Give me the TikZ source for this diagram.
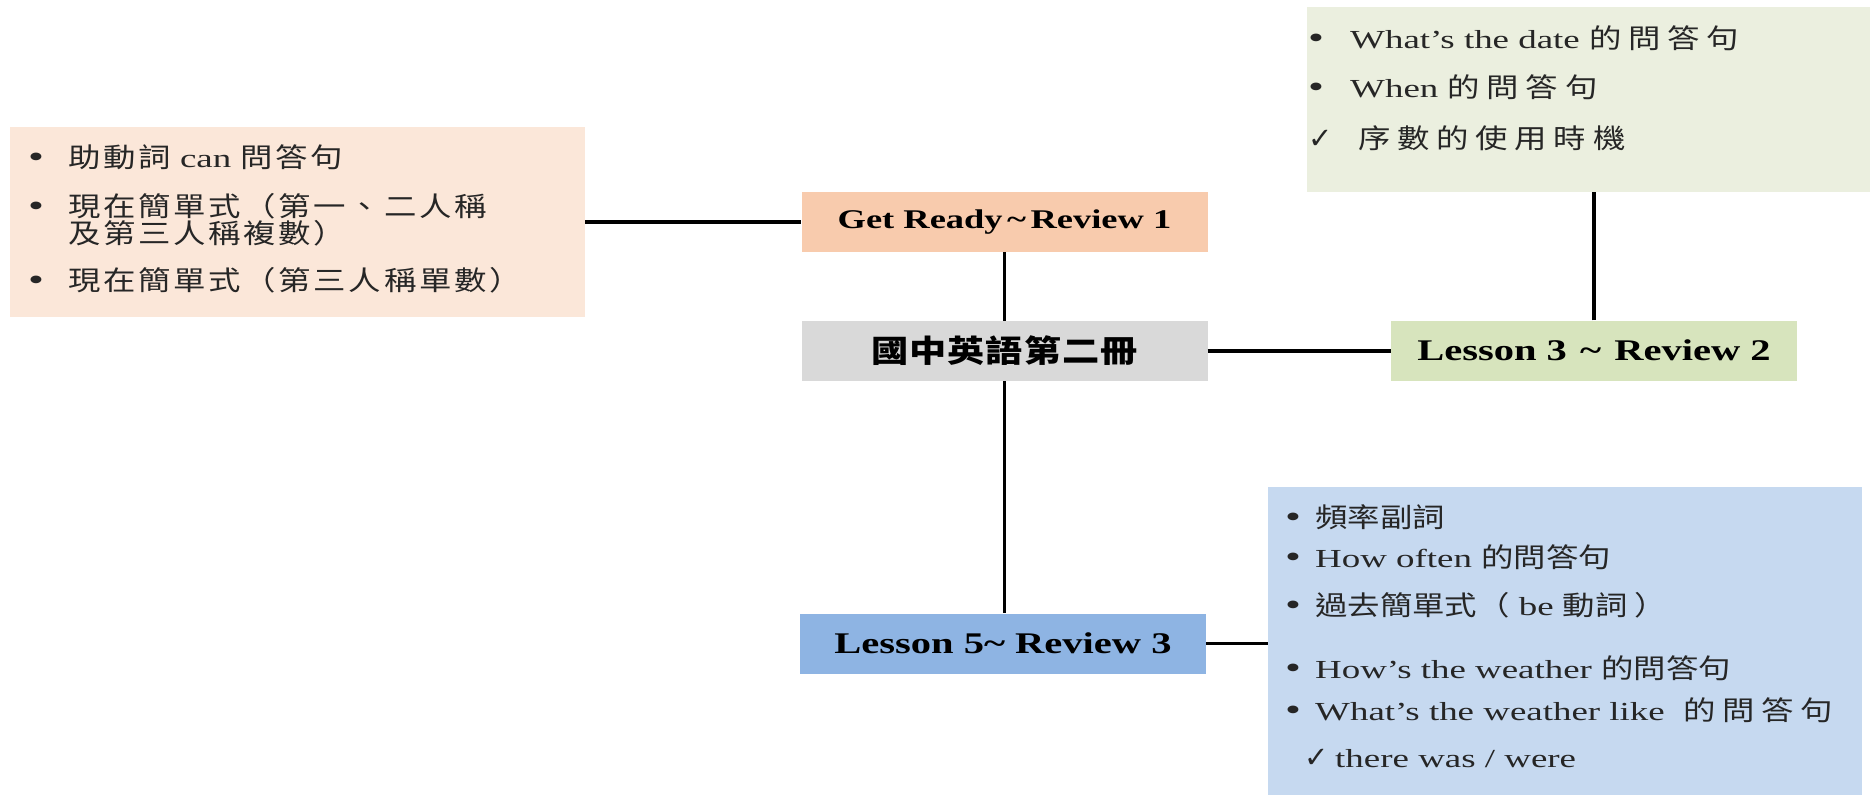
\documentclass[tikz,border=0pt]{standalone}
\usepackage{fontspec}
\setmainfont[FakeStretch=1.42]{Liberation Serif}
\newfontfamily\labelfont[FakeStretch=1.35]{Liberation Serif}
\newfontfamily\cjk[FakeStretch=1.2,LetterSpace=10]{Noto Sans CJK TC}
\newfontfamily\cjkblue[FakeStretch=1.2]{Noto Sans CJK TC}
\newfontfamily\cjkwide[FakeStretch=1.2,LetterSpace=25]{Noto Sans CJK TC}
\newfontfamily\cjktitle[FakeStretch=1.2,LetterSpace=3]{Noto Sans CJK TC}
\newfontfamily\symfont{DejaVu Sans}
\newcommand{\zh}[1]{{\cjk\fontsize{27}{30}\selectfont #1}}
\newcommand{\zhblue}[1]{{\cjkblue\fontsize{27}{30}\selectfont #1}}
\newcommand{\zhwide}[1]{{\cjkwide\fontsize{27}{30}\selectfont #1}}
\newcommand{\bul}[1]{\makebox[#1][l]{\fontsize{32}{34}\selectfont •}}
\newcommand{\chk}[1]{\makebox[#1][l]{\symfont\fontsize{29}{32}\selectfont ✓}}

\definecolor{peachlight}{HTML}{FBE7D9}
\definecolor{peach}{HTML}{F8CBAD}
\definecolor{bookgray}{HTML}{D9D9D9}
\definecolor{olive}{HTML}{D7E4BD}
\definecolor{olivelight}{HTML}{EBEFDF}
\definecolor{sky}{HTML}{8EB4E3}
\definecolor{skylight}{HTML}{C6D9F0}

\tikzset{
	topic/.style={inner sep=0pt, minimum width=406pt, minimum height=60pt, text=black, font=\labelfont\bfseries\fontsize{27}{30}\selectfont},
	notes/.style={inner sep=0pt},
	item/.style={anchor=west, inner sep=0pt, text height=23pt, text depth=3pt, text=black!85, font=\fontsize{26}{30}\selectfont},
	link/.style={line width=3.5pt}
}

\begin{document}
\begin{tikzpicture}[x=1pt,y=-1pt]
	\useasboundingbox (0,0) rectangle (1870,795);

	% note boxes
	\node[notes, fill=peachlight, minimum width=575pt, minimum height=190pt] (leftnotes) at (297.5,222) {};
	\node[notes, fill=olivelight, minimum width=563pt, minimum height=185pt] (datenotes) at (1588.5,99.5) {};
	\node[notes, fill=skylight, minimum width=594pt, minimum height=308pt] (weathernotes) at (1565,641) {};

	% topic boxes
	\node[topic, fill=peach] (getready) at (1004.5,222) {Get Ready\,\textasciitilde\,Review 1};
	\node[topic, fill=bookgray] (book) at (1004.5,351) {\cjktitle\bfseries\fontsize{31}{34}\selectfont 國中英語第二冊};
	\node[topic, fill=olive] (lessonthree) at (1594,350.5) {\fontsize{30}{32}\selectfont Lesson 3\hspace{0.1em} \textasciitilde\hspace{0.1em} Review 2};
	\node[topic, fill=sky] (lessonfive) at (1003,643.5) {\fontsize{30}{32}\selectfont Lesson 5\textasciitilde\ Review 3};

	% connectors
	\draw[link] (leftnotes.east) -- (getready.west);
	\draw[link] (getready.south) -- (book.north);
	\draw[link] (book.east) -- (book.east -| lessonthree.west);
	\draw[link] (lessonthree.north) -- (lessonthree.north |- datenotes.south);
	\draw[link] (book.south) -- (book.south |- lessonfive.north);
	\draw[link] (lessonfive.east) -- (lessonfive.east -| weathernotes.west);

	% left notes
	\node[item] (can) at (28,157) {\bul{40pt}\zh{助動詞} can \zh{問答句}};
	\node[item] (plural) at (28,206) {\bul{40pt}\zh{現在簡單式（第一、二人稱}};
	\node[item] (plural2) at (68,233) {\zh{及第三人稱複數）}};
	\node[item] (single) at (28,280) {\bul{40pt}\zh{現在簡單式（第三人稱單數）}};

	% date notes
	\node[item] (date) at (1308,38) {\bul{42pt}What’s the date \zhwide{的問答句}};
	\node[item] (when) at (1308,87) {\bul{42pt}When \zhwide{的問答句}};
	\node[item] (ordinal) at (1308,138) {\chk{50pt}\zhwide{序數的使用時機}};

	% weather notes
	\node[item] (freq) at (1285,517) {\bul{30pt}\zhblue{頻率副詞}};
	\node[item] (often) at (1285,557) {\bul{30pt}How often \zhblue{的問答句}};
	\node[item] (past) at (1285,605) {\bul{30pt}\zhblue{過去簡單式（} be \zhblue{動詞 ）}};
	\node[item] (hows) at (1285,668) {\bul{30pt}How’s the weather \zhblue{的問答句}};
	\node[item] (whats) at (1285,710) {\bul{30pt}What’s the weather like \ \zhwide{的問答句}};
	\node[item] (there) at (1304,757) {\chk{31pt}there was / were};
\end{tikzpicture}
\end{document}
